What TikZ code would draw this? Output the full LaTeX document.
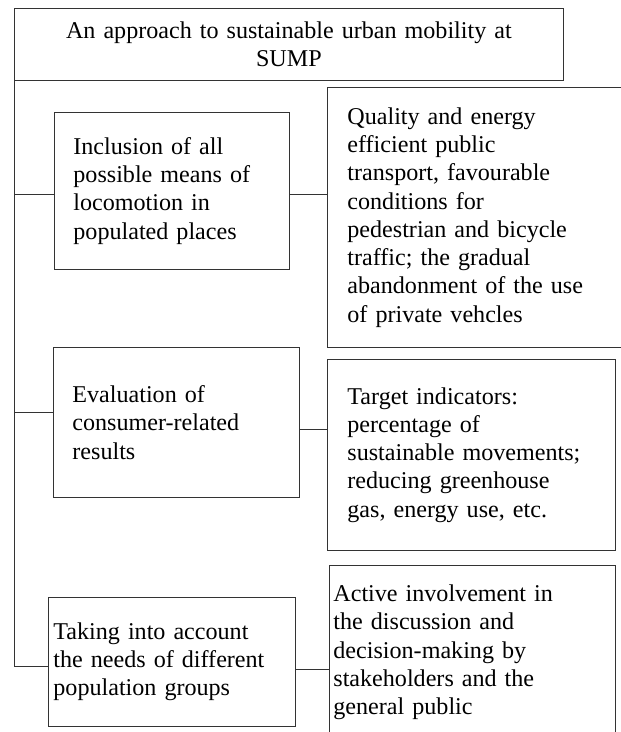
\documentclass[tikz,border=0pt]{standalone}
\usepackage{fontspec}
\setmainfont{Liberation Serif}
\definecolor{linecol}{gray}{0.2}
\begin{document}
\begin{tikzpicture}[x=1pt,y=-1pt,
  bx/.style={draw=linecol, line width=0.8pt, anchor=north west, inner ysep=0pt,
    align=left, font=\fontsize{24.1}{28.3}\selectfont, text=black},
  conn/.style={draw=linecol, line width=0.8pt}]
\useasboundingbox (0,0) rectangle (621,732);
\fill[white] (0,0) rectangle (621,732);
\node[bx, align=center, inner xsep=10pt, text width=529pt, minimum width=549pt, minimum height=72pt] (title) at (14,8)
  {An approach to sustainable urban mobility at\\SUMP};
\node[bx, inner xsep=19pt, text width=197pt, minimum width=235pt, minimum height=157pt] (b1) at (54,112)
  {Inclusion of all\\possible means of\\locomotion in\\populated places};
\node[bx, inner xsep=20pt, text width=260pt, minimum width=300pt, minimum height=260pt] (rb1) at (327,87)
  {Quality and energy\\efficient public\\transport, favourable\\conditions for\\pedestrian and bicycle\\traffic; the gradual\\abandonment of the use\\of private vehcles};
\node[bx, inner xsep=19pt, text width=208pt, minimum width=246pt, minimum height=150pt] (b2) at (53,347)
  {Evaluation of\\consumer-related\\results};
\node[bx, inner xsep=20pt, text width=248pt, minimum width=288pt, minimum height=191pt] (rb2) at (327,359)
  {Target indicators:\\percentage of\\sustainable movements;\\reducing greenhouse\\gas, energy use, etc.};
\node[bx, inner xsep=5pt, text width=237pt, minimum width=247pt, minimum height=129pt] (b3) at (48,597)
  {Taking into account\\the needs of different\\population groups};
\node[bx, inner xsep=4pt, text width=278pt, minimum width=286pt, minimum height=174pt] (rb3) at (329,565)
  {Active involvement in\\the discussion and\\decision-making by\\stakeholders and the\\general public};
% trunk from title to bottom box
\draw[conn] (title.south west) |- ([yshift=-4.5pt]b3.west);
% left branches
\draw[conn] ([yshift=-3.5pt]b1.west) -- ([yshift=-3.5pt]b1.west -| title.south west);
\draw[conn] ([yshift=10pt]b2.west) -- ([yshift=10pt]b2.west -| title.south west);
% right branches
\draw[conn] ([yshift=-3.5pt]b1.east) -- ([yshift=-3.5pt]b1.east -| rb1.west);
\draw[conn] ([yshift=-7pt]b2.east) -- ([yshift=-7pt]b2.east -| rb2.west);
\draw[conn] ([yshift=-7.5pt]b3.east) -- ([yshift=-7.5pt]b3.east -| rb3.west);
\end{tikzpicture}
\end{document}
